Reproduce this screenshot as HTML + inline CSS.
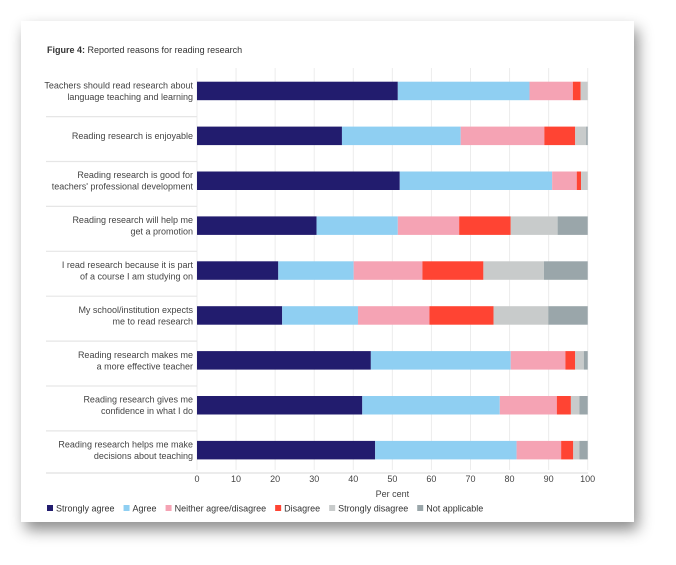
<!DOCTYPE html>
<html><head><meta charset="utf-8"><style>
body{margin:0;background:#fff;width:676px;height:565px;overflow:hidden;font-family:"Liberation Sans",sans-serif;}
#card{position:absolute;left:21px;top:21px;width:613px;height:501px;background:#fff;box-shadow:4px 8px 14px rgba(0,0,0,0.45);}
svg{position:absolute;left:0;top:0}
</style></head><body>
<div id="card"></div>
<svg id="chart" width="676" height="565"></svg>
<script>
const categories=["Teachers should read research about|language teaching and learning","Reading research is enjoyable","Reading research is good for|teachers' professional development","Reading research will help me|get a promotion","I read research because it is part|of a course I am studying on","My school/institution expects|me to read research","Reading research makes me|a more effective teacher","Reading research gives me|confidence in what I do","Reading research helps me make|decisions about teaching"];
const seriesNames=["Strongly agree","Agree","Neither agree/disagree","Disagree","Strongly disagree","Not applicable"];
const stronglyAgree=[51.4,37.1,51.9,30.6,20.8,21.8,44.5,42.3,45.6];
const agree=[33.7,30.4,39.0,20.8,19.3,19.4,35.8,35.2,36.2];
const neither=[11.1,21.4,6.3,15.7,17.6,18.3,14.0,14.6,11.4];
const disagree=[2.0,7.9,1.1,13.2,15.6,16.4,2.5,3.6,3.1];
const stronglyDisagree=[1.8,2.8,1.7,12.0,15.5,14.0,2.2,2.2,1.6];
const notApplicable=[0,0.4,0,7.7,11.2,10.1,1.0,2.1,2.1];
const ticks=[0,10,20,30,40,50,60,70,80,90,100];
const colors=["#221c6e","#8fcff2","#f5a3b4","#ff4433","#c8cbcb","#9aa6aa"];
const series=[stronglyAgree,agree,neither,disagree,stronglyDisagree,notApplicable];
const NS="http://www.w3.org/2000/svg";
const svg=document.getElementById('chart');
const x=v=>197+v*3.907;
const rowTop=i=>81.7+i*44.9;
const bh=18.5;
function mk(tag,attrs,parent){const e=document.createElementNS(NS,tag);for(const k in attrs)e.setAttribute(k,attrs[k]);(parent||svg).appendChild(e);return e;}
// title
let t=mk('text',{x:47,y:53,'font-size':9,fill:'#333'});


t.innerHTML='<tspan font-weight="bold">Figure 4:</tspan> Reported reasons for reading research';
// grid
ticks.forEach(v=>{
 let g=mk('line',{x1:x(v),x2:x(v),y1:68,y2:470,stroke:'#ececec','stroke-width':1});
 
 
 let tl=mk('text',{x:x(v),y:482,'font-size':9,fill:'#444','text-anchor':'middle'});
 
 
 tl.textContent=v;
});
let ax=mk('line',{x1:46,x2:588,y1:473,y2:473,stroke:'#e6e6e6','stroke-width':1.5});


let xt=mk('text',{x:x(50),y:497,'font-size':9,fill:'#444','text-anchor':'middle'});


xt.textContent='Per cent';
categories.forEach((c,i)=>{
 const top=rowTop(i);
 if(i>0){let s=mk('line',{x1:46,x2:197,y1:top-10,y2:top-10,stroke:'#e6e6e6','stroke-width':1.2});
  
  }
 const lines=c.split('|');
 let lt=mk('text',{x:193,'font-size':9,fill:'#444','text-anchor':'end'});
 
 
 const cy=top+bh/2;
 lines.forEach((l,j)=>{let ts=mk('tspan',{x:193,y:cy+3.2+(j-(lines.length-1)/2)*11.5},lt);ts.textContent=l;});
 let cum=0;
 series.forEach((s,k)=>{
  const v=s[i];
  let r=mk('rect',{x:x(cum),y:top,width:Math.max(0,x(cum+v)-x(cum)),height:bh,fill:colors[k]});
  
  
  cum+=v;
 });
});
// legend
let lx=47;
const lw=[6,4,8.5,6,9,7.5];
seriesNames.forEach((n,k)=>{
 let g=mk('g',{});
 
 
 mk('rect',{x:lx,y:505,width:6,height:6,fill:colors[k]},g);
 let tx=mk('text',{x:lx+9,y:511.5,'font-size':9,fill:'#333'},g);
 tx.textContent=n;
 lx+=9+tx.getComputedTextLength()+9;
});
</script>
</body></html>
